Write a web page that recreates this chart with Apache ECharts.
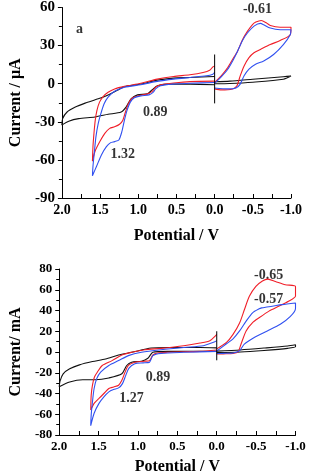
<!DOCTYPE html>
<html>
<head>
<meta charset="utf-8">
<script src="https://cdn.jsdelivr.net/npm/echarts@6/dist/echarts.min.js"></script>
<style>html,body{margin:0;padding:0;background:#fff;}#c{width:309px;height:476px;}</style>
</head>
<body>
<div id="c"></div>
<script>
// ---------- Data (Potential V, Current) ----------
var xTicks = [2.0, 1.5, 1.0, 0.5, 0.0, -0.5, -1.0];
var topYTicks = [60, 30, 0, -30, -60, -90];
var botYTicks = [80, 60, 40, 20, 0, -20, -40, -60, -80];

// Top panel (a), current in μA
var topBlackL = [[0.0,-0.8],[0.32,-0.3],[0.62,-0.3],[0.75,-1.6],[0.82,-4.9],[0.88,-8.0],[1.01,-8.8],[1.095,-11.9],[1.16,-18.4],[1.224,-22.3],[1.395,-24.1],[1.567,-26.2],[1.78,-27.5],[1.91,-29.5],[2.0,-32.5],
  [1.99,-27.5],[1.932,-22.3],[1.824,-18.4],[1.696,-15.3],[1.524,-11.9],[1.395,-8.8],[1.267,-4.9],[1.181,-2.3],[0.966,-0.3],[0.752,2.8],[0.54,4.4],[0.323,4.9],[0.0,5.7]];
var topRedL = [[0.0,2.0],[0.323,1.6],[0.537,0.5],[0.709,-0.8],[0.773,-2.8],[0.816,-6],[0.88,-8],[0.988,-9.3],[1.074,-11.1],[1.13,-15.8],[1.168,-22.3],[1.202,-28.7],[1.245,-31.9],[1.31,-33.9],[1.374,-35.2],[1.438,-39.1],[1.503,-45.6],[1.567,-53.4],[1.6,-61],
  [1.593,-49.5],[1.58,-39.1],[1.563,-28.7],[1.541,-21],[1.507,-14.5],[1.46,-10.1],[1.395,-6.7],[1.31,-4.1],[1.181,-2.1],[0.966,0.3],[0.752,3.6],[0.537,5.7],[0.323,7],[0.151,8.8],[0.065,10.6],[0.023,13.2],[0.0,14]];
var topBlueL = [[0.0,1.0],[0.323,0.3],[0.55,-0.3],[0.709,-1.6],[0.773,-4.1],[0.803,-6.7],[0.859,-8.8],[0.966,-9.6],[1.052,-11.1],[1.104,-14.5],[1.147,-21],[1.181,-28.7],[1.215,-37.8],[1.254,-44.3],[1.31,-45.6],[1.361,-46.4],[1.417,-49.5],[1.481,-55.9],[1.546,-65],[1.6,-72.5],
  [1.593,-65],[1.576,-54.6],[1.554,-41.7],[1.524,-31.3],[1.49,-23.6],[1.447,-15.8],[1.395,-10.6],[1.31,-6],[1.181,-2.8],[0.966,-0.8],[0.752,1.8],[0.537,3.6],[0.323,4.9],[0.108,6.2],[0.023,7.5],[0.0,9]];
var topBlackR = [[0,0.0],[-0.2,0.2],[-0.5,1.2],[-0.9,3.5],[-1.0,6.0],[-0.9,5.5],[-0.5,3.5],[-0.2,2.0],[0,1.5]];
var topRedR = [[0,-4.1],[-0.086,-4.9],[-0.236,-4.1],[-0.292,-1.6],[-0.335,6.2],[-0.386,14],[-0.45,20.5],[-0.515,24.4],[-0.6,27],[-0.729,30.8],[-0.858,34],[-0.99,38.6],[-1.0,44.5],
  [-0.858,44.5],[-0.729,45.8],[-0.68,47.8],[-0.61,49.8],[-0.54,48.5],[-0.493,46.4],[-0.429,41.2],[-0.365,34.7],[-0.30,25.6],[-0.236,19.2],[-0.172,12.7],[-0.086,6.2],[0,1.0]];
var topBlueR = [[0,-3.4],[-0.172,-4.1],[-0.279,-3.4],[-0.335,-0.3],[-0.386,6.2],[-0.45,11.4],[-0.536,15.3],[-0.643,17.9],[-0.772,23],[-0.9,30.8],[-0.99,38.6],[-1.0,42.5],
  [-0.858,42.5],[-0.729,43.8],[-0.643,46.4],[-0.6,47.5],[-0.52,45.5],[-0.429,39.9],[-0.365,34],[-0.30,25.6],[-0.236,17.9],[-0.172,11.4],[-0.086,5.4],[0,0.3]];
var topVLine = [[0,-15.5],[0,23]];

// Bottom panel, current in mA
var botBlackL = [[0,0.6],[0.212,0.6],[0.625,0.6],[0.811,-0.3],[0.874,-6],[0.956,-8.9],[1.081,-9.8],[1.143,-13],[1.205,-21],[1.37,-25],[1.536,-26.7],[1.702,-26.7],[1.867,-28.9],[2.0,-33.5],
  [1.99,-28],[1.95,-21],[1.867,-16.2],[1.743,-12.4],[1.578,-9.2],[1.412,-6.7],[1.246,-2.9],[1.081,-0.3],[0.832,3.8],[0.625,4.4],[0.418,4.4],[0.212,4.4],[0,4]];
var botRedL = [[0,2],[0.212,0.6],[0.418,0.3],[0.625,-0.3],[0.75,-1],[0.811,-2.9],[0.853,-8.3],[0.915,-8.9],[1.04,-9.8],[1.122,-13],[1.164,-19.4],[1.205,-27.3],[1.246,-32],[1.309,-33.7],[1.37,-35.2],[1.433,-40],[1.495,-44.8],[1.557,-49.5],[1.6,-56],
  [1.594,-41.6],[1.578,-32],[1.553,-24.1],[1.516,-19.4],[1.454,-13],[1.329,-8.3],[1.205,-2.9],[1.081,-0.3],[0.915,2.2],[0.708,3.5],[0.418,6],[0.212,8.6],[0.087,10.8],[0.017,15.6],[0,17]];
var botBlueL = [[0,0.6],[0.418,-0.3],[0.708,-1.3],[0.811,-3.5],[0.853,-9.8],[0.936,-10.5],[1.04,-11.4],[1.114,-15.6],[1.155,-22.5],[1.197,-30.5],[1.246,-34.6],[1.309,-36.2],[1.37,-38.4],[1.433,-43.2],[1.495,-49.5],[1.557,-59],[1.6,-71],
  [1.594,-60.6],[1.578,-47.9],[1.557,-35.2],[1.524,-25.7],[1.474,-19.4],[1.37,-13],[1.246,-8.3],[1.122,-3.5],[0.956,-0.3],[0.708,2.2],[0.418,4.4],[0.17,6],[0.025,9.8],[0,11]];
var botBlackR = [[0,-0.5],[-0.3,0],[-0.6,1.5],[-0.9,3.5],[-1.0,5],[-1.0,7],[-0.9,5.8],[-0.6,3.8],[-0.3,2.0],[0,0.8]];
var botRedR = [[0,-2],[-0.083,-1.8],[-0.207,-1.5],[-0.27,0],[-0.31,8],[-0.373,20.3],[-0.455,28.3],[-0.538,33],[-0.663,39.4],[-0.787,44.1],[-0.911,48.9],[-1.0,54],
  [-1.0,63.2],[-0.87,64.8],[-0.745,67.9],[-0.65,70.2],[-0.58,68.5],[-0.497,63.2],[-0.414,53.7],[-0.352,41],[-0.29,28],[-0.207,17],[-0.124,9.2],[0,3]];
var botBlueR = [[0,-1.5],[-0.083,-1.3],[-0.207,-0.9],[-0.29,1.3],[-0.35,7.6],[-0.476,14],[-0.642,20.3],[-0.807,26.7],[-0.932,34],[-1.0,42],
  [-1.0,47.3],[-0.828,45.7],[-0.704,44.1],[-0.621,43.2],[-0.57,42.5],[-0.538,41.6],[-0.455,37.8],[-0.373,29.8],[-0.29,20.3],[-0.207,12.7],[-0.124,7.9],[0,1]];
var botVLine = [[0,-8],[0,20]];

// Annotations [potential, current, text]
var topNotes = [[1.768,42.7,'a'],[-0.561,58.3,'-0.61'],[0.777,-22.5,'0.89'],[1.202,-56,'1.32']];
var botNotes = [[-0.658,74.3,'-0.65'],[-0.658,50.5,'-0.57'],[0.745,-24.8,'0.89'],[1.081,-44.8,'1.27']];

// ---------- Chart ----------
var FONT = '"Liberation Serif","Times New Roman",serif';
var BLACK = '#111', RED = '#f01e28', BLUE = '#3050f0';

function xAxis(gi, nameGap, fs){
  return {
    type:'value', gridIndex:gi, inverse:true, min:-1, max:2, interval:0.5,
    name:'Potential / V', nameLocation:'middle', nameGap:nameGap,
    nameTextStyle:{fontFamily:FONT, fontWeight:'bold', fontSize:16, color:'#000'},
    axisLine:{show:true, onZero:false, lineStyle:{color:'#000', width:1}},
    axisTick:{show:true, inside:true, length:4, lineStyle:{color:'#000'}},
    minorTick:{show:true, splitNumber:2, length:4, lineStyle:{color:'#000'}},
    splitLine:{show:false}, minorSplitLine:{show:false},
    axisLabel:{margin:5, fontFamily:FONT, fontWeight:'bold', fontSize:fs, color:'#000',
      formatter:function(v){ var s = v.toFixed(1); return s==='-0.0'?'0.0':s; }}
  };
}
function yAxis(gi, mn, mx, iv, name, nameGap, fs){
  return {
    type:'value', gridIndex:gi, min:mn, max:mx, interval:iv,
    name:name, nameLocation:'middle', nameGap:nameGap,
    nameTextStyle:{fontFamily:FONT, fontWeight:'bold', fontSize:16, color:'#000'},
    axisLine:{show:true, onZero:false, lineStyle:{color:'#000', width:1}},
    axisTick:{show:true, inside:false, length:4, lineStyle:{color:'#000'}},
    minorTick:{show:true, splitNumber:2, length:3, lineStyle:{color:'#000'}},
    splitLine:{show:false}, minorSplitLine:{show:false},
    axisLabel:{margin:7, fontFamily:FONT, fontWeight:'bold', fontSize:fs, color:'#000'}
  };
}
function line(data, color, gi){
  return {type:'line', xAxisIndex:gi, yAxisIndex:gi, data:data, showSymbol:false, symbol:'none',
    smooth:0.25, lineStyle:{color:color, width:1.1}, itemStyle:{color:color}, z:3, silent:true};
}
function notes(arr, gi, fs){
  return {type:'scatter', xAxisIndex:gi, yAxisIndex:gi, symbolSize:0, silent:true,
    data:arr.map(function(n){ return {value:[n[0],n[1]], label:{formatter:n[2]}}; }),
    label:{show:true, position:'inside', fontFamily:FONT, fontWeight:'bold', fontSize:fs, color:'#000'}};
}

var chart = echarts.init(document.getElementById('c'), null, {renderer:'canvas'});
chart.setOption({
  animation:false,
  backgroundColor:'#fff',
  grid:[
    {left:58, top:5, width:233, height:193},
    {left:54, top:269, width:241.5, height:168}
  ],
  xAxis:[xAxis(0, 30, 14), xAxis(1, 24, 13)],
  yAxis:[yAxis(0,-90,60,30,'Current / μA',35,15), yAxis(1,-80,80,20,'Current/ mA',33,13)],
  series:[
    line(topBlackL,BLACK,0), line(topRedL,RED,0), line(topBlueL,BLUE,0),
    line(topBlackR,BLACK,0), line(topRedR,RED,0), line(topBlueR,BLUE,0),
    {type:'line', xAxisIndex:0, yAxisIndex:0, data:topVLine, showSymbol:false, symbol:'none', lineStyle:{color:'#000', width:1}, silent:true},
    line(botBlackL,BLACK,1), line(botRedL,RED,1), line(botBlueL,BLUE,1),
    line(botBlackR,BLACK,1), line(botRedR,RED,1), line(botBlueR,BLUE,1),
    {type:'line', xAxisIndex:1, yAxisIndex:1, data:botVLine, showSymbol:false, symbol:'none', lineStyle:{color:'#000', width:1}, silent:true},
    notes(topNotes,0,14), notes(botNotes,1,14)
  ]
});
</script>
</body>
</html>
